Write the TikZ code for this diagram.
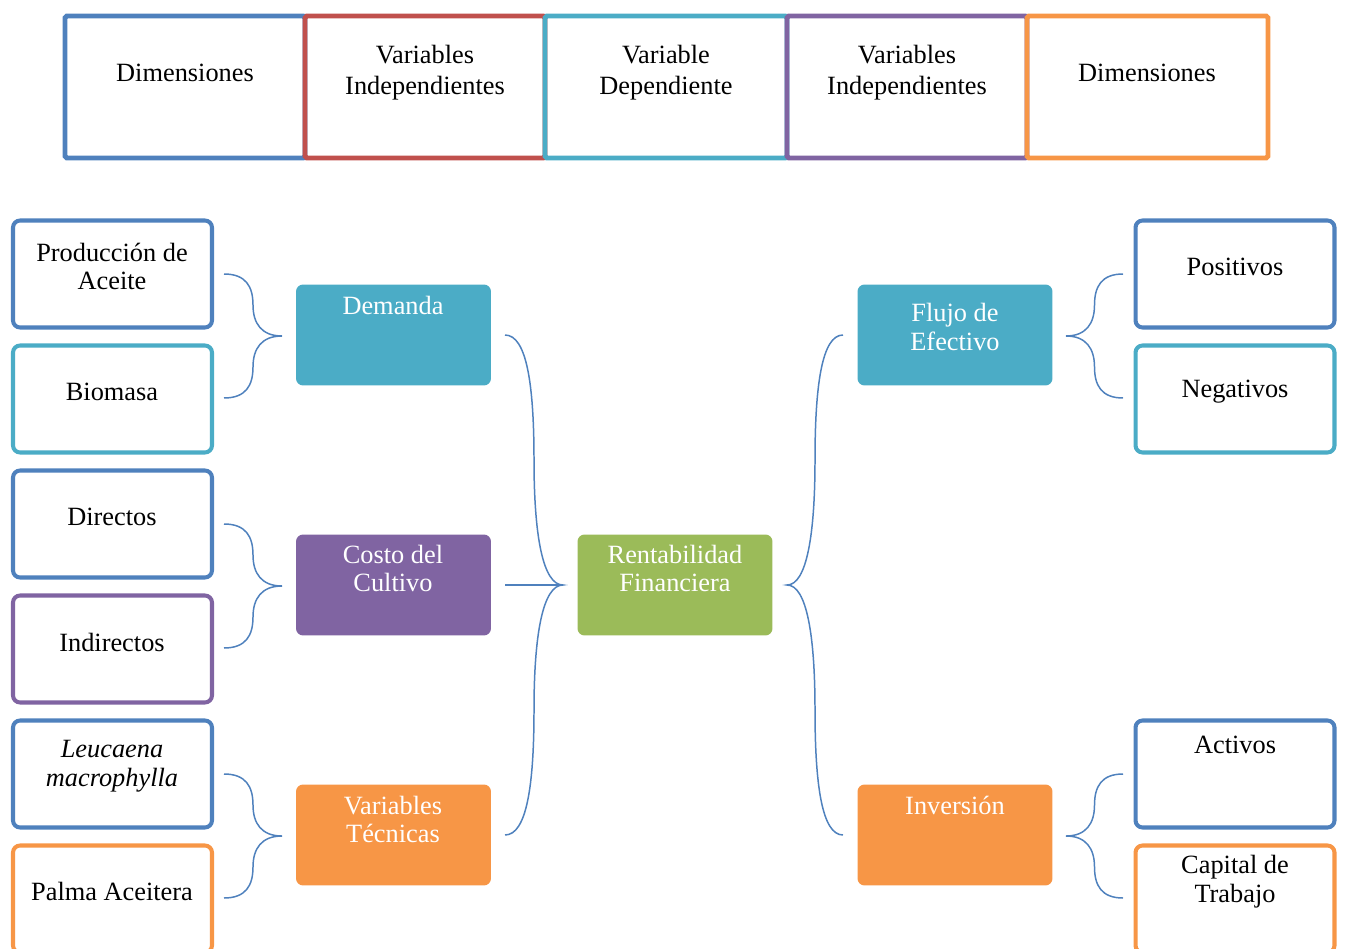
\documentclass[tikz,border=0pt]{standalone}
\usepackage{fontspec}
\setmainfont{Liberation Serif}
\usetikzlibrary{calc}
\definecolor{cblue}{HTML}{4F81BD}
\definecolor{cred}{HTML}{C0504D}
\definecolor{cteal}{HTML}{4BACC6}
\definecolor{cpurple}{HTML}{8064A2}
\definecolor{corange}{HTML}{F79646}
\definecolor{cgreen}{HTML}{9BBB59}
\newcommand\mybrace[4]{%
 \pgfmathsetmacro\brh{(#2-#1)/2}%
 \pgfmathsetmacro\brxm{#1+\brh}%
 \pgfmathsetmacro\brhalf{(#4-#3)/2}%
 \pgfmathsetmacro\brym{#3+\brhalf}%
 \draw[bracestyle] (#1,#3) .. controls ({#1+0.75*\brh},#3) and (\brxm,{#3+0.2*\brhalf}) .. (\brxm,{#3+0.5*\brhalf})
  .. controls (\brxm,{#3+0.8*\brhalf}) and ({\brxm+0.3*\brh},\brym) .. (#2,\brym)
  .. controls ({\brxm+0.3*\brh},\brym) and (\brxm,{#4-0.8*\brhalf}) .. (\brxm,{#4-0.5*\brhalf})
  .. controls (\brxm,{#4-0.2*\brhalf}) and ({#1+0.75*\brh},#4) .. (#1,#4);}
\begin{document}
\begin{tikzpicture}[x=0.02cm,y=-0.02cm,
 topbox/.style={draw=#1, line width=2.8pt, rounded corners=1pt, minimum height=2.84cm, inner sep=0},
 sidebox/.style={draw=#1, line width=2.3pt, rounded corners=4pt, minimum width=3.98cm, minimum height=2.14cm, inner sep=0, fill=white},
 fillbox/.style={fill=#1, rounded corners=4pt, minimum width=3.9cm, minimum height=2.02cm, inner sep=0},
 txt/.style={font=\fontsize{15}{16.4}\selectfont, align=center, inner sep=0, text=black},
 toptxt/.style={txt, font=\fontsize{15}{17.6}\selectfont},
 wtxt/.style={txt, text=white},
 bracestyle/.style={draw=cblue, line width=0.85pt}]
\useasboundingbox (0,0) rectangle (1348,949);
% top row
\node[topbox=cblue, minimum width=4.8cm] (t1) at (185,87) {};
\node[topbox=cred, minimum width=4.8cm] (t2) at (425,87) {};
\node[topbox=cteal, minimum width=4.84cm] (t3) at (666,87) {};
\node[topbox=cpurple, minimum width=4.8cm] (t4) at (907,87) {};
\node[topbox=corange, minimum width=4.82cm] (t5) at (1147.5,87) {};
\node[toptxt] (t1t) at (185,72.5) {Dimensiones};
\node[toptxt] (t2t) at (425,73) {Variables\\Independientes};
\node[toptxt] (t3t) at (666,73) {Variable\\Dependiente};
\node[toptxt] (t4t) at (907,73) {Variables\\Independientes};
\node[toptxt] (t5t) at (1147,72.5) {Dimensiones};
% left boxes
\node[sidebox=cblue] (l1) at (112.5,274) {};
\node[sidebox=cteal] (l2) at (112.5,399) {};
\node[sidebox=cblue] (l3) at (112.5,524) {};
\node[sidebox=cpurple] (l4) at (112.5,649) {};
\node[sidebox=cblue] (l5) at (112.5,774) {};
\node[sidebox=corange] (l6) at (112.5,899) {};
\node[txt] (l1t) at (112,266.5) {Producción de\\Aceite};
\node[txt] (l2t) at (112,392) {Biomasa};
\node[txt] (l3t) at (112,517) {Directos};
\node[txt] (l4t) at (112,642) {Indirectos};
\node[txt] (l5t) at (112,766) {\textit{Leucaena}\\\textit{macrophylla}};
\node[txt] (l6t) at (112,891) {Palma Aceitera};
% right boxes
\node[sidebox=cblue] (r1) at (1235,274) {};
\node[sidebox=cteal] (r2) at (1235,399) {};
\node[sidebox=cblue] (r3) at (1235,774) {};
\node[sidebox=corange] (r4) at (1235,899) {};
\node[txt] (r1t) at (1235,267) {Positivos};
\node[txt] (r2t) at (1235,392) {Negativos};
\node[txt] (r3t) at (1235,745) {Activos};
\node[txt] (r4t) at (1235,882) {Capital de\\Trabajo};
% filled boxes
\node[fillbox=cteal] (dem) at (393.5,335) {};
\node[fillbox=cpurple] (cos) at (393.5,585) {};
\node[fillbox=corange] (tec) at (393.5,835) {};
\node[fillbox=cgreen] (ren) at (675,585) {};
\node[fillbox=cteal] (flu) at (955,335) {};
\node[fillbox=corange] (inv) at (955,835) {};
\node[wtxt] (demt) at (393,305) {Demanda};
\node[wtxt] (cost) at (393,568.5) {Costo del\\Cultivo};
\node[wtxt] (tect) at (393,819.5) {Variables\\Técnicas};
\node[wtxt] (rent) at (675,568.5) {Rentabilidad\\Financiera};
\node[wtxt] (flut) at (955,327) {Flujo de\\Efectivo};
\node[wtxt] (invt) at (955,805) {Inversión};
% braces
\mybrace{224}{282}{274}{398}
\mybrace{224}{282}{524}{648}
\mybrace{224}{282}{774}{898}
\mybrace{505}{563}{335}{835}
\mybrace{843}{787}{335}{835}
\mybrace{1123}{1066}{274}{398}
\mybrace{1123}{1066}{774}{898}
\draw[bracestyle] ($(cos.east)+(14,0)$) -- ($(ren.west)+(-15,0)$);
\end{tikzpicture}
\end{document}
